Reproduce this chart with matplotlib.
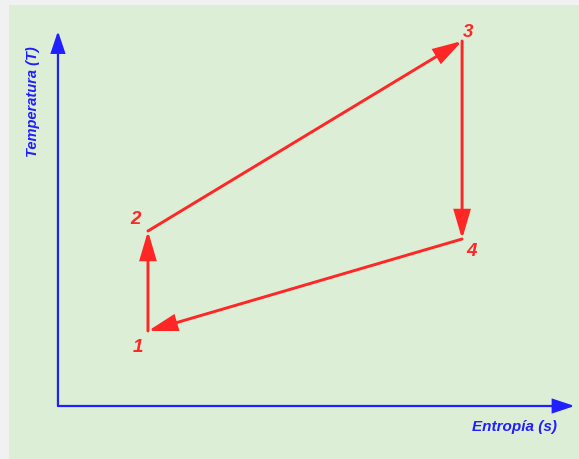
import matplotlib

matplotlib.use("Agg")
import matplotlib.pyplot as plt
from matplotlib.patches import FancyArrowPatch, Rectangle

# Brayton cycle state points (arbitrary units)
states = ["1", "2", "3", "4"]
entropy = [1.0, 1.0, 4.49, 4.49]
temperature = [0.75, 1.75, 3.65, 1.67]
# label offsets for each state, in points
label_offsets = [(-7, -11), (-9, 9), (4, 7), (7, -8)]

x_label = "Entropía (s)"
y_label = "Temperatura (T)"
s_axis_end = 5.74
t_axis_end = 3.75

RED = "#ff2626"
BLUE = "#1f1fff"

fig = plt.figure(figsize=(5.79, 4.60), dpi=100)
fig.patch.set_facecolor("#f1f1f1")
ax = fig.add_axes([0, 0, 1, 1])
ax.set_xlim(-0.644, 5.789)
ax.set_ylim(-0.53, 4.07)
ax.axis("off")

# green panel with a light shadow on the left/top
ax.add_patch(Rectangle((9 / 579, 0), 1, 1 - 6 / 460, transform=fig.transFigure,
                       facecolor="#ddeed6", edgecolor="none", zorder=0))

# axes arrows
for end in [(s_axis_end, 0), (0, t_axis_end)]:
    ax.add_patch(FancyArrowPatch((0, 0), end, arrowstyle="-|>,head_length=0.6,head_width=0.2",
                                 mutation_scale=22, color=BLUE, linewidth=1.6,
                                 shrinkA=0, shrinkB=0, joinstyle="miter", zorder=2))

ax.text(5.07, -0.2, x_label, color=BLUE, fontsize=11, fontweight="bold", fontstyle="italic",
        family="Liberation Sans", ha="center", va="center")
ax.text(-0.28, 3.05, y_label, color=BLUE, fontsize=10.5, fontweight="bold", fontstyle="italic",
        family="Liberation Sans", ha="center", va="center", rotation=90)

# cycle arrows 1->2->3->4->1
n = len(states)
for i in range(n):
    j = (i + 1) % n
    ax.add_patch(FancyArrowPatch((entropy[i], temperature[i]), (entropy[j], temperature[j]),
                                 arrowstyle="-|>,head_length=0.85,head_width=0.25",
                                 mutation_scale=20, color=RED, linewidth=2.1,
                                 shrinkA=0, shrinkB=0, joinstyle="miter", zorder=3))

for name, s, t, off in zip(states, entropy, temperature, label_offsets):
    ax.annotate(name, (s, t), xytext=off, textcoords="offset points", color=RED,
                fontsize=13.5, fontweight="bold", fontstyle="italic", family="Liberation Sans",
                ha="center", va="center")

fig.savefig("out.png", dpi=100, facecolor=fig.get_facecolor())
